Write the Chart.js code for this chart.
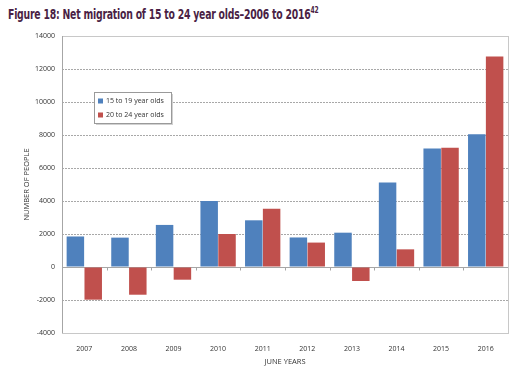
<!DOCTYPE html>
<html>
<head>
<meta charset="utf-8">
<script src="https://cdn.jsdelivr.net/npm/chart.js@4.4.1/dist/chart.umd.min.js"></script>
<style>
  html, body { margin: 0; padding: 0; background: #fff; }
  #wrap { position: relative; width: 525px; height: 378px; }
  #title {
    position: absolute; left: 8px; top: 6px;
    font-family: "DejaVu Sans Condensed", "Liberation Sans", sans-serif;
    font-weight: bold; font-size: 14px; color: #4a1f45; letter-spacing: -0.3px;
    white-space: nowrap; transform: scaleX(0.74); transform-origin: 0 0;
  }
  #title sup { font-size: 9px; vertical-align: 6px; line-height: 0; }
  canvas { position: absolute; left: 0; top: 0; }
</style>
</head>
<body>
<div id="wrap">
  <div id="title">Figure 18: Net migration of 15 to 24 year olds–2006 to 2016<sup>42</sup></div>
  <canvas id="chart" width="525" height="378"></canvas>
</div>
<script>
const years = ['2007', '2008', '2009', '2010', '2011', '2012', '2013', '2014', '2015', '2016'];
const age15to19 = [1850, 1780, 2550, 4000, 2830, 1790, 2080, 5120, 7180, 8050];
const age20to24 = [-1980, -1680, -770, 2000, 3530, 1480, -850, 1070, 7220, 12760];
const yTicks = [-4000, -2000, 0, 2000, 4000, 6000, 8000, 10000, 12000, 14000];

const tickFont = { family: 'Open Sans', size: 7 };

// plot frame, zero line and the boxed legend inside the plot area
const frameAndLegend = {
    id: 'frameAndLegend',
    beforeDatasetsDraw(chart) {
        const ctx = chart.ctx;
        const a = chart.chartArea;
        const y = chart.scales.y;
        ctx.save();
        ctx.strokeStyle = '#c8c8c8';
        ctx.lineWidth = 1;
        ctx.strokeRect(Math.round(a.left) + 0.5, Math.round(a.top) + 0.5,
            Math.round(a.right - a.left), Math.round(a.bottom - a.top));
        const zy = Math.round(y.getPixelForValue(0)) + 0.5;
        ctx.strokeStyle = '#a6a6a6';
        ctx.beginPath();
        ctx.moveTo(a.left, zy);
        ctx.lineTo(a.right, zy);
        const step = (a.right - a.left) / years.length;
        for (let i = 1; i < years.length; i++) {
            const tx = Math.round(a.left + step * i) + 0.5;
            ctx.moveTo(tx, zy);
            ctx.lineTo(tx, zy + 3);
        }
        ctx.stroke();
        ctx.beginPath();
        ctx.moveTo(Math.round(a.left) + 0.5, a.top);
        ctx.lineTo(Math.round(a.left) + 0.5, a.bottom);
        ctx.stroke();
        ctx.restore();
    },
    afterDatasetsDraw(chart) {
        const ctx = chart.ctx;
        const a = chart.chartArea;
        const bx = a.left + 32, by = a.top + 56, bw = 77, bh = 31;
        ctx.save();
        ctx.fillStyle = 'rgba(0,0,0,0.18)';
        ctx.fillRect(bx + 2, by + 2, bw, bh);
        ctx.fillStyle = '#fff';
        ctx.fillRect(bx, by, bw, bh);
        ctx.strokeStyle = '#9a9a9a';
        ctx.lineWidth = 1;
        ctx.strokeRect(bx + 0.5, by + 0.5, bw, bh);
        ctx.font = '7px "Open Sans"';
        ctx.textBaseline = 'middle';
        chart.data.datasets.forEach((ds, i) => {
            const cy = by + 9 + i * 14;
            ctx.fillStyle = ds.backgroundColor;
            ctx.fillRect(bx + 4, cy - 2.5, 5, 5);
            ctx.fillStyle = '#333';
            ctx.fillText(ds.label, bx + 12, cy);
        });
        ctx.restore();
    }
};

new Chart(document.getElementById('chart'), {
    type: 'bar',
    data: {
        labels: years,
        datasets: [
            { label: '15 to 19 year olds', data: age15to19, backgroundColor: '#4f81bd',
              categoryPercentage: 0.8, barPercentage: 0.98 },
            { label: '20 to 24 year olds', data: age20to24, backgroundColor: '#c0504d',
              categoryPercentage: 0.8, barPercentage: 0.98 }
        ]
    },
    options: {
        responsive: false,
        animation: false,
        layout: { padding: { top: 36, right: 17, bottom: 12, left: 0 } },
        plugins: {
            legend: { display: false },
            tooltip: { enabled: false },
            title: { display: false }
        },
        scales: {
            x: {
                grid: { display: false },
                border: { display: false },
                ticks: { color: '#333', font: tickFont, padding: 4 },
                title: { display: true, text: 'JUNE YEARS', color: '#333',
                         font: { family: 'Open Sans', size: 7.5 }, padding: { top: 3, bottom: 0 } },
                afterFit(scale) { scale.height = 33; }
            },
            y: {
                min: -4000,
                max: 14000,
                afterBuildTicks(scale) { scale.ticks = yTicks.map(v => ({ value: v })); },
                grid: {
                    color: ctx => {
                        const v = ctx.tick && ctx.tick.value;
                        return (v === 0 || v === 14000 || v === -4000) ? 'rgba(0,0,0,0)' : '#a8a8a8';
                    },
                    drawTicks: false
                },
                border: { display: false, dash: [2, 1] },
                ticks: { color: '#333', font: tickFont, padding: 7,
                         callback: v => String(v) },
                title: { display: true, text: 'NUMBER OF PEOPLE', color: '#333',
                         font: { family: 'Open Sans', size: 7.5 }, padding: { top: 22, bottom: 0 } },
                afterFit(scale) { scale.width = 62; }
            }
        }
    },
    plugins: [frameAndLegend]
});
</script>
</body>
</html>
